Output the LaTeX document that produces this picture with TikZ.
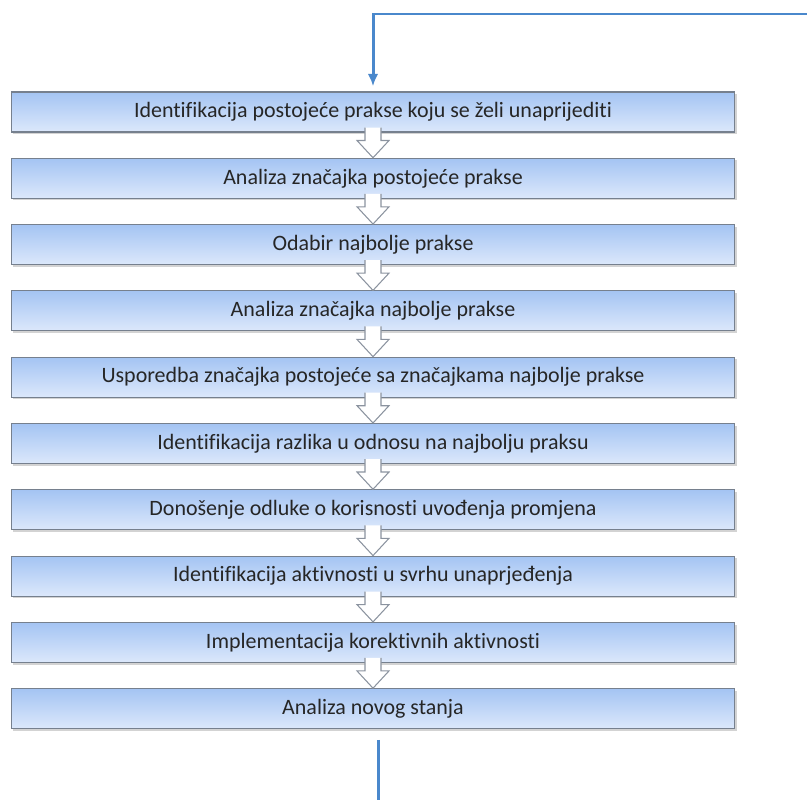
\documentclass[tikz,border=0pt]{standalone}
\usepackage{fontspec}
\setmainfont[Ligatures=NoCommon]{Carlito}
\usepackage{xcolor}
\usetikzlibrary{arrows.meta,shadows,calc}

\definecolor{boxtop}{HTML}{A4C4F3}
\definecolor{boxbot}{HTML}{DCE8FB}
\definecolor{boxline}{HTML}{76808E}
\definecolor{loopblue}{HTML}{4A88CC}

\begin{document}
\begin{tikzpicture}[x=0.02cm,y=-0.02cm]
  \tikzset{stepbox/.style = {draw=boxline, line width=0.6pt, top color=boxtop, bottom color=boxbot,
      minimum width=14.48cm, minimum height=0.8cm, inner sep=0pt,
      font=\fontsize{12.5}{14}\selectfont, text=black!85,
      drop shadow={shadow xshift=1pt, shadow yshift=-1.2pt, opacity=0.35}}}
  \tikzset{chevron/.style = {draw=boxline!85, line width=0.6pt, line join=miter}}
  \tikzset{loopline/.style = {draw=loopblue, line width=1.7pt}}

  \useasboundingbox (0,0) rectangle (807,800);

  % steps
  \foreach \i/\txt in {1/Identifikacija postojeće prakse koju se želi unaprijediti,
                       2/Analiza značajka postojeće prakse,
                       3/Odabir najbolje prakse,
                       4/Analiza značajka najbolje prakse,
                       5/Usporedba značajka postojeće sa značajkama najbolje prakse,
                       6/Identifikacija razlika u odnosu na najbolju praksu,
                       7/Donošenje odluke o korisnosti uvođenja promjena,
                       8/Identifikacija aktivnosti u svrhu unaprjeđenja,
                       9/Implementacija korektivnih aktivnosti,
                       10/Analiza novog stanja}
  {
    \node[stepbox] (b\i) at (373,{112+66.3*(\i-1)}) {\txt};
  }

  % chevrons
  \foreach \i in {1,...,9}
  {
    \pgfmathtruncatemacro{\j}{\i+1}
    \fill[white] ($(b\i.south)+(-8,-5)$) -- ($(b\i.south)+(-8,8)$) -- ($(b\i.south)+(-16,8)$)
      -- (b\j.north) -- ($(b\i.south)+(16,8)$) -- ($(b\i.south)+(8,8)$) -- ($(b\i.south)+(8,-5)$) -- cycle;
    \draw[chevron] ($(b\i.south)+(-8,-5)$) -- ($(b\i.south)+(-8,8)$) -- ($(b\i.south)+(-16,8)$)
      -- (b\j.north) -- ($(b\i.south)+(16,8)$) -- ($(b\i.south)+(8,8)$) -- ($(b\i.south)+(8,-5)$);
  }

  % feedback line
  \coordinate (fbin) at (807,14);
  \coordinate (fbout) at (378,800);
  \draw[loopline,-{Latex[length=7pt,width=6pt]},shorten >=3pt] (fbin) -| (b1.north);
  \draw[loopline,shorten <=6pt] (b10.south -| fbout) -- (fbout);
\end{tikzpicture}
\end{document}
